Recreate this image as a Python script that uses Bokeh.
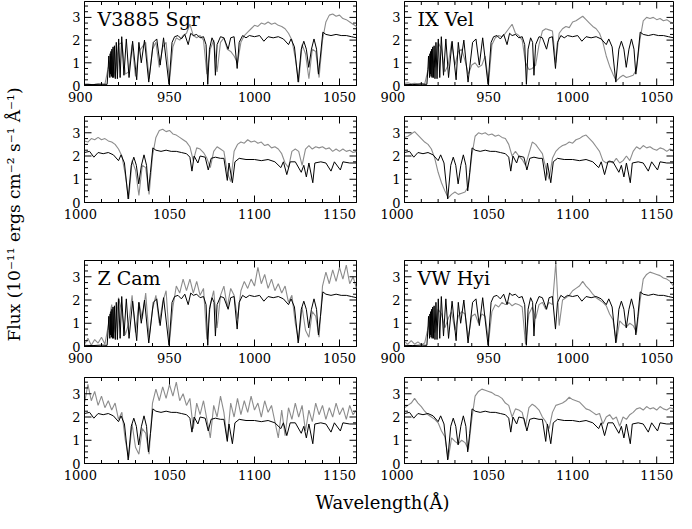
import numpy as np
from bokeh.plotting import figure
from bokeh.layouts import row, column
from bokeh.models import LinearAxis, Range1d, SingleIntervalTicker, Label
from bokeh.embed import file_html
from bokeh.resources import INLINE

# ---------------- data ----------------
NAMES = ["V3885 Sgr", "IX Vel", "Z Cam", "VW Hyi"]
X_RANGE_TOP = (900, 1060)
X_RANGE_BOTTOM = (1000, 1160)
Y_RANGE = (0, 3.7)

# black comparison spectrum (same in every panel)
WAVE_BLACK = [900, 905, 910, 913.3, 913.9, 914.3, 914.9, 915.1, 915.33, 915.55,
              915.82, 916.1, 916.43, 916.8, 917.18, 917.6, 918.13, 918.7, 919.35, 920.1,
              920.96, 921.9, 923.2, 924.6, 926.2, 928.3, 930.7, 932.0, 933.4, 935.3,
              937.8, 940.5, 942.5, 944.5, 946.5, 949.7, 951.5, 953, 955, 957,
              959, 961, 962.5, 964, 966, 968, 970, 971.5, 972.5, 973.5,
              975, 976.2, 977.0, 978, 980, 982, 984.5, 986, 988, 989.8,
              991, 993, 995, 997, 1000, 1003, 1005.5, 1008, 1011, 1014,
              1017, 1020, 1021.5, 1023.5, 1025.7, 1027.5, 1029, 1030.5, 1031.9, 1033.5,
              1035, 1036.5, 1037.6, 1038.8, 1040.2, 1042, 1045, 1048, 1051, 1054,
              1057, 1060, 1062, 1063.2, 1064.5, 1066.7, 1068, 1071, 1072.8, 1074.5,
              1077, 1080, 1082, 1084.0, 1085, 1087.0, 1088.5, 1091, 1095, 1100,
              1104, 1108, 1112, 1115.5, 1117, 1119, 1121, 1124, 1127.5, 1129,
              1130.5, 1132, 1134.3, 1135.5, 1139, 1142, 1145, 1147, 1150.5, 1152,
              1156, 1160]
FLUX_BLACK = [0.05, 0.04, 0.06, 0.05, 0.7, 1.3, 0.35, 1.4, 0.5, 1.5,
              0.4, 1.6, 0.35, 1.7, 0.35, 1.75, 0.3, 1.9, 0.3, 2.05,
              0.35, 2.15, 0.45, 2.05, 0.35, 1.95, 0.25, 1.9, 1.0, 2.0,
              0.15, 1.9, 2.05, 0.9, 2.1, 0.05, 1.9, 2.15, 2.2, 2.05,
              2.25, 1.8, 2.3, 2.2, 2.25, 2.1, 2.15, 1.8, 0.05, 1.6,
              2.1, 1.9, 0.45, 1.8, 2.15, 2.1, 1.6, 2.1, 2.15, 0.75,
              1.9, 2.2, 2.1, 2.2, 2.15, 2.2, 1.95, 2.15, 2.1, 2.15,
              2.05, 1.8, 2.05, 1.7, 0.15, 1.6, 1.95, 1.6, 0.8, 1.6,
              2.05, 1.6, 0.5, 1.3, 2.35, 2.25, 2.2, 2.25, 2.2, 2.2,
              2.15, 2.1, 1.95, 1.35, 2.0, 1.7, 2.0, 1.95, 1.4, 1.9,
              1.95, 1.9, 1.9, 0.95, 1.7, 0.85, 1.75, 1.9, 1.85, 1.85,
              1.8, 1.85, 1.75, 1.5, 1.75, 1.2, 1.75, 1.75, 1.3, 1.6,
              1.1, 1.7, 0.85, 1.7, 1.75, 1.7, 1.35, 1.75, 1.4, 1.75,
              1.7, 1.7]

# grey spectra of the four stars, sampled every 2 A from 900 to 1160
WAVE_GRAY = list(range(900, 1161, 2))
FLUX_V3885_SGR = [
    0.05, 0.06, 0.04, 0.05, 0.07, 0.04, 0.05, 0.8, 1.3, 0.4,      # 900
    1.8, 1.9, 0.5, 0.6, 1.8, 0.4, 1.5, 1.7, 1.9, 0.3,             # 920
    1.6, 1.9, 0.8, 1.7, 1.9, 0.2, 1.7, 2.1, 2.0, 2.2,             # 940
    2.3, 2.7, 2.2, 2.1, 2.2, 2.0, 0.5, 1.6, 2.0, 0.6,             # 960
    1.9, 2.1, 1.6, 1.5, 1.3, 1.0, 1.9, 2.2, 2.35, 2.5,            # 980
    2.65, 2.6, 2.75, 2.7, 2.8, 2.7, 2.75, 2.65, 2.6, 2.5,         # 1000
    2.3, 2.0, 1.2, 0.15, 1.8, 1.4, 0.3, 1.6, 1.5, 0.35,           # 1020
    2.0, 2.8, 3.1, 3.15, 3.05, 3.1, 2.95, 2.9, 2.8, 2.7,          # 1040
    2.6, 2.4, 1.8, 2.35, 2.3, 2.15, 1.9, 1.5, 2.2, 2.4,           # 1060
    2.3, 2.2, 1.3, 0.9, 2.2, 2.5, 2.6, 2.55, 2.7, 2.6,            # 1080
    2.65, 2.55, 2.6, 2.45, 2.5, 2.35, 2.4, 2.3, 2.1, 1.7,         # 1100
    1.5, 2.2, 2.3, 2.2, 1.6, 2.3, 2.45, 2.3, 2.4, 2.35,           # 1120
    2.4, 2.3, 2.35, 2.2, 2.3, 2.2, 2.3, 2.2, 2.25, 2.15,          # 1140
    2.2]                                                          # 1160
FLUX_IX_VEL = [
    0.1, 0.12, 0.08, 0.1, 0.07, 0.09, 0.06, 0.7, 1.4, 0.8,
    1.9, 1.6, 0.6, 0.9, 1.9, 0.9, 1.5, 1.6, 1.1, 0.5,
    0.9, 1.0, 0.8, 0.9, 1.3, 0.1, 1.8, 2.1, 2.2, 2.15,
    2.3, 2.5, 2.7, 2.3, 2.2, 2.0, 1.0, 0.7, 0.75, 0.9,
    1.8, 2.4, 2.5, 2.45, 2.4, 1.0, 2.3, 2.5, 2.6, 2.55,
    2.8, 2.85, 2.95, 3.05, 2.9, 2.75, 2.6, 2.5, 2.3, 1.9,
    1.3, 0.85, 0.5, 0.2, 0.35, 0.45, 0.35, 0.4, 0.45, 0.7,
    2.0, 2.85, 3.0, 2.95, 3.0, 2.9, 2.95, 2.85, 2.9, 2.8,
    2.75, 2.5, 2.0, 2.2, 2.0, 1.85, 1.6, 2.1, 2.6, 2.5,
    2.3, 2.1, 1.5, 1.0, 1.9, 2.2, 2.35, 2.45, 2.5, 2.6,
    2.55, 2.7, 2.75, 2.85, 2.9, 2.75, 2.6, 2.4, 2.2, 1.8,
    1.7, 1.8, 1.7, 1.9, 1.7, 1.8, 2.0, 1.8, 2.2, 2.4,
    2.3, 2.45, 2.35, 2.4, 2.3, 2.25, 2.35, 2.3, 2.2, 2.3,
    2.2]
FLUX_Z_CAM = [
    0.1, 0.35, 0.05, 0.3, 0.15, 0.4, 0.1, 0.9, 1.8, 0.6,
    2.1, 1.5, 0.5, 1.0, 2.2, 0.6, 1.9, 1.2, 2.3, 0.4,
    1.6, 2.2, 1.0, 1.9, 2.4, 0.2, 1.7, 2.6, 2.3, 2.9,
    2.4, 2.9, 2.3, 2.8, 2.2, 2.5, 0.3, 1.8, 2.4, 0.8,
    2.2, 2.6, 1.7, 2.5, 2.2, 1.2, 2.4, 2.8, 2.5, 2.9,
    2.6, 3.4, 2.7, 3.1, 2.5, 2.9, 2.4, 2.7, 2.3, 2.6,
    1.9, 2.2, 1.0, 0.25, 1.7, 0.7, 0.4, 1.5, 1.3, 0.4,
    2.6, 3.2, 2.7, 3.3, 2.8, 3.4, 2.9, 3.5, 2.7, 3.0,
    2.5, 2.8, 1.5, 2.6, 2.1, 2.7, 1.9, 1.1, 2.5, 2.0,
    2.9, 2.2, 1.0, 2.6, 2.0, 2.8, 2.1, 2.7, 2.2, 2.9,
    2.3, 2.6, 2.0, 2.7, 2.2, 2.5, 1.8, 1.1, 2.3, 1.2,
    2.4, 1.9, 2.6, 2.0, 2.5, 1.4, 2.3, 1.8, 2.6, 2.1,
    2.5, 1.9, 2.4, 2.0, 2.6, 2.1, 2.4, 1.9, 2.5, 2.1,
    2.3]
FLUX_VW_HYI = [
    0.2, 0.1, 0.25, 0.1, 0.2, 0.08, 0.15, 0.8, 1.3, 0.6,
    1.6, 1.4, 0.8, 1.2, 1.5, 0.7, 1.3, 1.5, 1.4, 0.4,
    1.3, 1.4, 1.0, 1.4, 1.3, 0.2, 1.5, 1.8, 1.7, 1.9,
    1.8, 1.9, 1.75, 1.85, 1.8, 1.7, 0.1, 1.4, 1.7, 1.2,
    1.8, 1.9, 1.6, 1.9, 1.8, 3.6, 0.9, 2.0, 2.1, 2.2,
    2.4, 2.5, 2.6, 2.8, 2.6, 2.45, 2.25, 2.1, 2.0, 1.9,
    1.75, 1.4, 1.15, 0.2, 1.1, 0.95, 0.85, 1.0, 0.9, 0.6,
    1.9, 2.9, 3.1, 3.2, 3.15, 3.1, 3.05, 2.95, 2.9, 2.8,
    2.6, 2.5, 2.0, 2.35, 2.3, 2.2, 1.6, 2.4, 2.55, 2.45,
    2.3, 2.0, 1.8, 1.5, 2.2, 2.5, 2.55, 2.6, 2.7, 2.85,
    2.75, 2.7, 2.65, 2.5, 2.35, 2.3, 2.2, 2.1, 2.15, 1.7,
    2.0, 2.1, 1.9, 2.0, 1.6, 2.0, 1.9, 2.1, 2.2, 2.35,
    2.4, 2.3, 2.45, 2.35, 2.4, 2.3, 2.45, 2.35, 2.3, 2.4,
    2.35]
GRAYS = [FLUX_V3885_SGR, FLUX_IX_VEL, FLUX_Z_CAM, FLUX_VW_HYI]
for g in GRAYS:
    assert len(g) == len(WAVE_GRAY)
assert len(WAVE_BLACK) == len(FLUX_BLACK)

X_LABEL = "Wavelength(Å)"
Y_LABEL = "Flux (10⁻¹¹ ergs cm⁻² s⁻¹ Å⁻¹)"

# ---------------- style ----------------
GRAY = "#8c8c8c"
FONT = "DejaVu Serif"
TICK_FONT_SIZE = "13px"
X_MAJOR_STEP, X_MINOR_STEP = 50, 10
Y_MAJOR_STEP, Y_MINOR_STEP = 1, 0.25
NBSP = "\u00a0"


def frange(a, b, step):
    out, v = [], a
    while v <= b + 1e-9:
        out.append(round(v, 6))
        v += step
    return out


def label_axis(ax):
    ax.axis_line_color = "black"
    ax.major_tick_in = 0
    ax.major_tick_out = 0
    ax.minor_tick_in = 0
    ax.minor_tick_out = 0
    ax.major_label_text_font = FONT
    ax.major_label_text_font_size = TICK_FONT_SIZE
    ax.major_label_text_color = "black"
    ax.major_label_standoff = 4


def add_frame_ticks(p, xr):
    """inward ticks on all four sides of the frame (dash markers, half clipped by the frame)"""
    x_major = frange(xr[0], xr[1], X_MAJOR_STEP)
    x_minor = [v for v in frange(xr[0], xr[1], X_MINOR_STEP) if v not in x_major]
    y_major = frange(Y_RANGE[0], Y_RANGE[1], Y_MAJOR_STEP)
    y_minor = [v for v in frange(Y_RANGE[0], Y_RANGE[1], Y_MINOR_STEP) if v not in y_major]
    for xs, size in ((x_major, 14), (x_minor, 7)):
        for yedge in Y_RANGE:
            p.scatter(xs, [yedge] * len(xs), marker="dash", size=size, angle=np.pi / 2,
                      line_color="black", line_width=1)
    for ys, size in ((y_major, 14), (y_minor, 7)):
        for xedge in xr:
            p.scatter([xedge] * len(ys), ys, marker="dash", size=size, angle=0,
                      line_color="black", line_width=1)


def panel(xr, gray, name, width, bl, br, height, bt, bb, first_pad):
    p = figure(width=width, height=height, x_range=Range1d(*xr), y_range=Range1d(*Y_RANGE),
               x_axis_type=None, y_axis_type=None, output_backend="svg", toolbar_location=None,
               min_border_left=bl, min_border_right=br, min_border_top=bt, min_border_bottom=bb)
    p.outline_line_color = "black"
    p.outline_line_width = 1
    p.background_fill_color = "white"
    p.border_fill_color = "white"
    xax = LinearAxis(ticker=SingleIntervalTicker(interval=X_MAJOR_STEP))
    label_axis(xax)
    # the first wavelength label sits left of its tick in the reference
    xax.major_label_overrides = {xr[0]: str(xr[0]) + NBSP * first_pad}
    p.add_layout(xax, "below")
    yax = LinearAxis(ticker=SingleIntervalTicker(interval=Y_MAJOR_STEP))
    label_axis(yax)
    p.add_layout(yax, "left")
    p.line(WAVE_GRAY, gray, line_color=GRAY, line_width=1.1)
    p.line(WAVE_BLACK, FLUX_BLACK, line_color="black", line_width=1)
    add_frame_ticks(p, xr)
    if name:
        p.add_layout(Label(x=xr[0], y=Y_RANGE[1], x_offset=13, y_offset=-17, text=name,
                           text_align="left", text_baseline="alphabetic", text_font=FONT,
                           text_font_size="19px", text_color="black"))
    return p


# geometry of the grid (pixels)
YLAB_W = 30
LEFT_W, LEFT_BL, LEFT_BR = 350, 54, 24
RIGHT_W, RIGHT_BL, RIGHT_BR = 296, 24, 3
ROWS = [  # (height, top border, bottom border)
    (115, 1, 30),
    (144, 1, 57),
    (117, 1, 30),
    (113, 1, 26),
]
XRS = [X_RANGE_TOP, X_RANGE_BOTTOM, X_RANGE_TOP, X_RANGE_BOTTOM]
LEFT_STAR = [0, 0, 2, 2]
RIGHT_STAR = [1, 1, 3, 3]

grid_rows = []
for i, (h, bt, bb) in enumerate(ROWS):
    show = (i % 2 == 0)
    li, ri = LEFT_STAR[i], RIGHT_STAR[i]
    pl = panel(XRS[i], GRAYS[li], NAMES[li] if show else None,
               LEFT_W, LEFT_BL, LEFT_BR, h, bt, bb, 2)
    pr = panel(XRS[i], GRAYS[ri], NAMES[ri] if show else None,
               RIGHT_W, RIGHT_BL, RIGHT_BR, h, bt, bb, 7)
    grid_rows.append(row(pl, pr, spacing=0))

panels_h = sum(r[0] for r in ROWS)
XLAB_H = 513 - panels_h
XLAB_W = LEFT_W + RIGHT_W

ylab = figure(width=YLAB_W, height=panels_h, x_range=Range1d(0, YLAB_W), y_range=Range1d(0, panels_h),
              x_axis_type=None, y_axis_type=None, output_backend="svg", toolbar_location=None,
              min_border=0)
ylab.outline_line_color = None
ylab.add_layout(Label(x=13, y=panels_h - 214, text=Y_LABEL, angle=np.pi / 2, text_align="center",
                      text_baseline="middle", text_font=FONT, text_font_size="17px",
                      text_color="black"))

xlab = figure(width=XLAB_W, height=XLAB_H, x_range=Range1d(0, XLAB_W), y_range=Range1d(0, XLAB_H),
              x_axis_type=None, y_axis_type=None, output_backend="svg", toolbar_location=None,
              min_border=0)
xlab.outline_line_color = None
xlab.add_layout(Label(x=352, y=XLAB_H / 2 - 1, text=X_LABEL, text_align="center",
                      text_baseline="middle", text_font=FONT, text_font_size="18px",
                      text_color="black"))

layout = row(ylab, column(*grid_rows, xlab, spacing=0), spacing=0)

open("out.html", "w").write(file_html(layout, INLINE))
